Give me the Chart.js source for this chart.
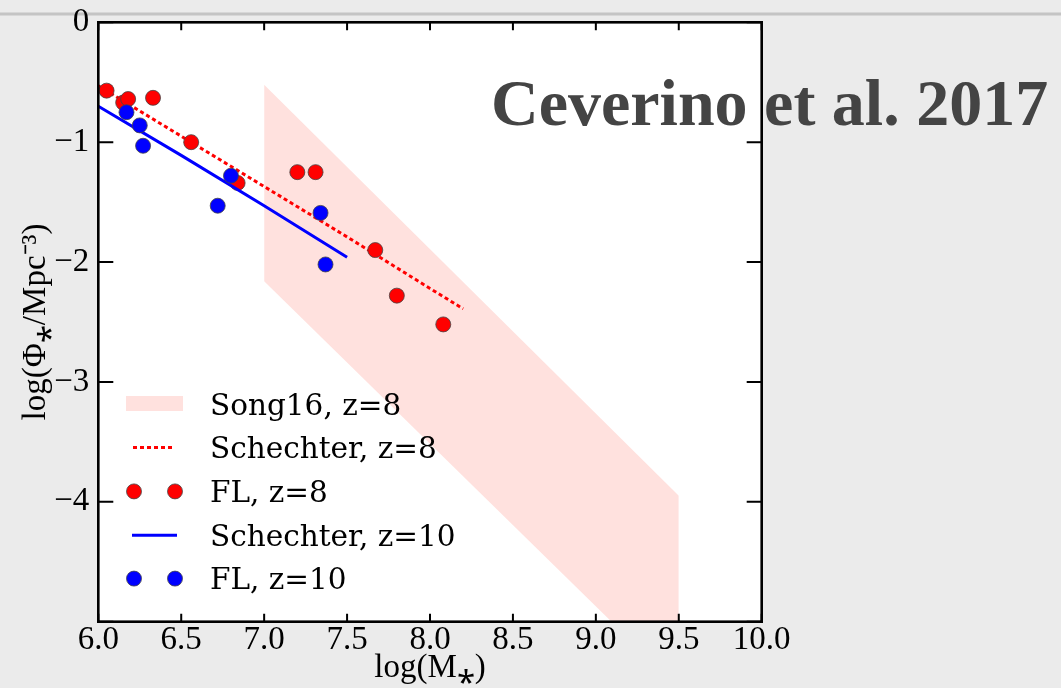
<!DOCTYPE html>
<html>
<head>
<meta charset="utf-8">
<title>Stellar mass function</title>
<script src="https://cdn.jsdelivr.net/npm/chart.js@4.4.1/dist/chart.umd.min.js"></script>
<style>
	html, body { margin: 0; padding: 0; background: #ebebeb; }
	canvas { display: block; }
</style>
</head>
<body>
<canvas id="smf" width="1061" height="688"></canvas>
<script>
	// FL, z=8
	var fl8Mass = [6.05, 6.15, 6.18, 6.33, 6.56, 6.84, 7.20, 7.31, 7.67, 7.80, 8.08];
	var fl8Phi  = [-0.57, -0.67, -0.64, -0.63, -1.00, -1.34, -1.25, -1.25, -1.90, -2.28, -2.52];
	// FL, z=10
	var fl10Mass = [6.17, 6.25, 6.27, 6.72, 6.80, 7.34, 7.37];
	var fl10Phi  = [-0.75, -0.86, -1.03, -1.53, -1.28, -1.59, -2.02];
	// Schechter fits
	var sch8Mass = [6.0, 6.5, 7.0, 7.5, 8.0, 8.2];
	var sch8Phi  = [-0.53, -0.95, -1.37, -1.79, -2.22, -2.39];
	var sch10Mass = [6.0, 6.5, 7.0, 7.5];
	var sch10Phi  = [-0.70, -1.11, -1.53, -1.96];
	// Song16, z=8 band
	var songMass  = [7.0, 9.5];
	var songUpper = [-0.52, -3.95];
	var songLower = [-2.16, -5.55];

	var pink = "rgb(255, 225, 222)";
	var tickFont = { family: "Liberation Serif", size: 33 };
	var titleFont = { family: "Liberation Serif", size: 33 };

	function pts(xs, ys){
		return xs.map(function(x, i){ return { x: x, y: ys[i] }; });
	}

	// Фон, рамка, внутренние тики, легенда и заголовок
	var paper = {
		id: "paper",
		beforeDraw: function(chart){
			var ctx = chart.ctx, a = chart.chartArea;
			ctx.save();
			ctx.fillStyle = "#ebebeb";
			ctx.fillRect(0, 0, chart.width, chart.height);
			ctx.fillStyle = "#c4c4c4";
			ctx.fillRect(0, 12.5, chart.width, 3);
			ctx.fillStyle = "#ffffff";
			ctx.fillRect(a.left, a.top, a.right - a.left, a.bottom - a.top);
			ctx.restore();
		},
		afterDatasetsDraw: function(chart){
			var ctx = chart.ctx, a = chart.chartArea;
			var xs = chart.scales.x, ys = chart.scales.y;
			ctx.save();
			ctx.strokeStyle = "#000";
			ctx.lineWidth = 2;
			xs.ticks.forEach(function(t){
				var px = xs.getPixelForValue(t.value);
				ctx.beginPath();
				ctx.moveTo(px, a.bottom); ctx.lineTo(px, a.bottom - 8);
				ctx.moveTo(px, a.top); ctx.lineTo(px, a.top + 8);
				ctx.stroke();
			});
			ys.ticks.forEach(function(t){
				var py = ys.getPixelForValue(t.value);
				ctx.beginPath();
				ctx.moveTo(a.left, py); ctx.lineTo(a.left + 15, py);
				ctx.moveTo(a.right, py); ctx.lineTo(a.right - 15, py);
				ctx.stroke();
			});
			ctx.lineWidth = 2.6;
			ctx.strokeRect(a.left, a.top, a.right - a.left, a.bottom - a.top);
			ctx.restore();
		},
		afterDraw: function(chart){
			var ctx = chart.ctx;
			ctx.save();
			// легенда
			var rows = [404, 447.6, 491.4, 535.2, 578.6];
			ctx.fillStyle = pink;
			ctx.fillRect(126, rows[0] - 8, 57, 15);

			ctx.strokeStyle = "#ff0000";
			ctx.lineWidth = 3;
			ctx.setLineDash([4, 3]);
			ctx.beginPath(); ctx.moveTo(133, rows[1]); ctx.lineTo(175, rows[1]); ctx.stroke();
			ctx.setLineDash([]);

			ctx.strokeStyle = "#0000ff";
			ctx.beginPath(); ctx.moveTo(132, rows[3]); ctx.lineTo(177, rows[3]); ctx.stroke();

			[[rows[2], "#ff0000"], [rows[4], "#0000ff"]].forEach(function(r){
				[134, 175].forEach(function(cx){
					ctx.beginPath();
					ctx.arc(cx, r[0], 7.5, 0, Math.PI * 2);
					ctx.fillStyle = r[1];
					ctx.fill();
					ctx.lineWidth = 0.8;
					ctx.strokeStyle = "#444";
					ctx.stroke();
				});
			});

			var labels = ["Song16, z=8", "Schechter, z=8", "FL, z=8", "Schechter, z=10", "FL, z=10"];
			ctx.fillStyle = "#000";
			ctx.font = "29.5px 'DejaVu Serif'";
			ctx.textBaseline = "alphabetic";
			ctx.textAlign = "left";
			labels.forEach(function(s, i){ ctx.fillText(s, 210, rows[i] + 10.7); });

			// заголовок
			ctx.fillStyle = "#444444";
			ctx.font = "bold 66px 'Liberation Serif'";
			ctx.fillText("Ceverino et al. 2017", 491, 125);
			ctx.restore();
		}
	};

	var chart = new Chart(document.getElementById("smf"), {
		type: "line",
		data: {
			datasets: [
				{
					label: "FL, z=10",
					data: pts(fl10Mass, fl10Phi),
					showLine: false,
					pointRadius: 7.5,
					pointBackgroundColor: "#0000ff",
					pointBorderColor: "#444",
					pointBorderWidth: 0.8,
					clip: false,
					order: 1
				},
				{
					label: "Schechter, z=10",
					data: pts(sch10Mass, sch10Phi),
					borderColor: "#0000ff",
					borderWidth: 3,
					pointRadius: 0,
					fill: false,
					order: 2
				},
				{
					label: "FL, z=8",
					data: pts(fl8Mass, fl8Phi),
					showLine: false,
					pointRadius: 7.5,
					pointBackgroundColor: "#ff0000",
					pointBorderColor: "#444",
					pointBorderWidth: 0.8,
					clip: false,
					order: 3
				},
				{
					label: "Schechter, z=8",
					data: pts(sch8Mass, sch8Phi),
					borderColor: "#ff0000",
					borderWidth: 3,
					borderDash: [4, 3],
					pointRadius: 0,
					fill: false,
					order: 4
				},
				{
					label: "Song16, z=8",
					data: pts(songMass, songUpper),
					borderWidth: 0,
					borderColor: pink,
					backgroundColor: pink,
					pointRadius: 0,
					fill: "+1",
					order: 5
				},
				{
					label: "Song16 lower",
					data: pts(songMass, songLower),
					borderWidth: 0,
					borderColor: pink,
					pointRadius: 0,
					fill: false,
					order: 6
				}
			]
		},
		options: {
			responsive: false,
			animation: false,
			layout: { padding: { left: 0, right: 299.3, top: 22.3, bottom: 0 } },
			plugins: {
				legend: { display: false },
				tooltip: { enabled: false }
			},
			scales: {
				x: {
					type: "linear",
					min: 6, max: 10,
					grid: { display: false },
					border: { display: false },
					ticks: {
						stepSize: 0.5,
						color: "#000",
						font: tickFont,
						padding: -9,
						maxRotation: 0,
						callback: function(v){ return v.toFixed(1); }
					},
					title: {
						display: true,
						text: "log(M⁎)",
						color: "#000",
						font: titleFont,
						padding: { top: 0, bottom: 0 }
					},
					afterFit: function(s){ s.height = 66.3; }
				},
				y: {
					type: "linear",
					min: -5, max: 0,
					grid: { display: false },
					border: { display: false },
					ticks: {
						stepSize: 1,
						color: "#000",
						font: tickFont,
						padding: 1,
						callback: function(v){
							if (v === -5) return "";
							return v < 0 ? "\u2212" + Math.abs(v) : "0";
						}
					},
					title: {
						display: true,
						text: "log(Φ⁎/Mpc⁻³)",
						color: "#000",
						font: titleFont,
						padding: { top: 17, bottom: 0 }
					},
					afterFit: function(s){ s.width = 98.3; }
				}
			}
		},
		plugins: [paper]
	});
</script>
</body>
</html>
